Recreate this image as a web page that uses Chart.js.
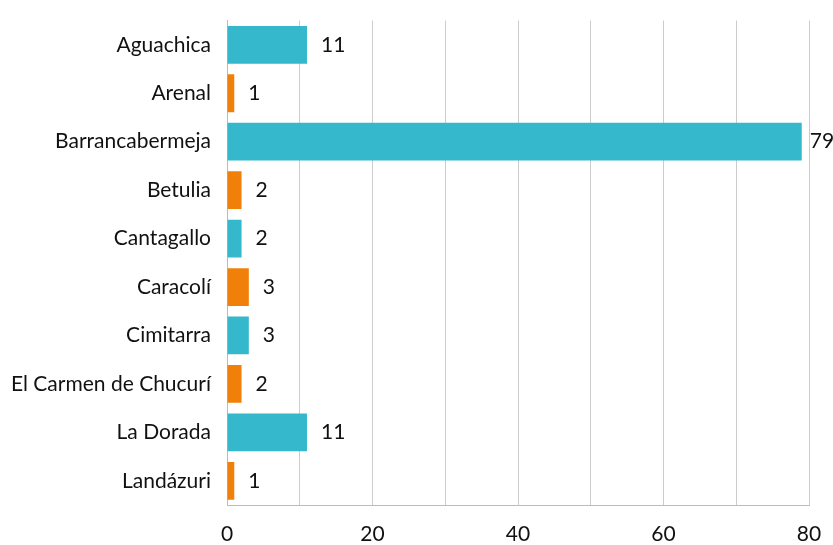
<!DOCTYPE html>
<html>
<head>
<meta charset="utf-8">
<script src="https://cdn.jsdelivr.net/npm/chart.js@4"></script>
<style>
  body { margin: 0; background: #fff; }
</style>
</head>
<body>
<canvas id="myChart" width="833" height="545"></canvas>
<script>
var municipios = ['Aguachica', 'Arenal', 'Barrancabermeja', 'Betulia', 'Cantagallo', 'Caracolí', 'Cimitarra', 'El Carmen de Chucurí', 'La Dorada', 'Landázuri'];
var casos = [11, 1, 79, 2, 2, 3, 3, 2, 11, 1];
var colores = ['#36b8cc', '#f08009', '#36b8cc', '#f08009', '#36b8cc', '#f08009', '#36b8cc', '#f08009', '#36b8cc', '#f08009'];
var xTicks = [0, 20, 40, 60, 80];

var fuente = 'Lato';

// etiquetas de valor a la derecha de cada barra
var valueLabels = {
  id: 'valueLabels',
  afterDatasetsDraw: function(chart) {
    var ctx = chart.ctx;
    var meta = chart.getDatasetMeta(0);
    ctx.save();
    ctx.font = '21px ' + fuente;
    ctx.fillStyle = '#111';
    ctx.textAlign = 'left';
    ctx.textBaseline = 'middle';
    for (var i = 0; i < meta.data.length; i++) {
      var bar = meta.data[i];
      var off = casos[i] > 50 ? 8 : 14;
      ctx.fillText(String(casos[i]), bar.x + off, bar.y);
    }
    ctx.restore();
  }
};

var ctx = document.getElementById('myChart').getContext('2d');
var chart = new Chart(ctx, {
  type: 'bar',
  data: {
    labels: municipios,
    datasets: [{
      data: casos,
      backgroundColor: colores,
      borderWidth: 0,
      barPercentage: 0.78,
      categoryPercentage: 1
    }]
  },
  options: {
    indexAxis: 'y',
    responsive: false,
    animation: false,
    layout: { padding: { top: 20, right: 24, left: 0, bottom: 0 } },
    plugins: {
      legend: { display: false },
      tooltip: { enabled: false }
    },
    scales: {
      x: {
        min: 0,
        max: 80,
        afterBuildTicks: function(axis) {
          var t = [];
          for (var v = 0; v <= 80; v += 10) t.push({ value: v });
          axis.ticks = t;
        },
        afterFit: function(axis) {
          axis.height = 40;
          axis.paddingLeft = 0;
          axis.paddingRight = 0;
        },
        grid: { color: '#cccccc', drawTicks: false },
        border: { color: '#bbbbbb' },
        ticks: {
          padding: 17,
          color: '#111',
          font: { family: fuente, size: 21 },
          autoSkip: false,
          maxRotation: 0,
          callback: function(v) { return xTicks.indexOf(v) >= 0 ? v : ''; }
        }
      },
      y: {
        afterFit: function(axis) { axis.width = 227; },
        grid: { display: false },
        border: { color: '#bbbbbb' },
        ticks: {
          padding: 8,
          color: '#111',
          font: { family: fuente, size: 21 }
        }
      }
    }
  },
  plugins: [valueLabels]
});
</script>
</body>
</html>
